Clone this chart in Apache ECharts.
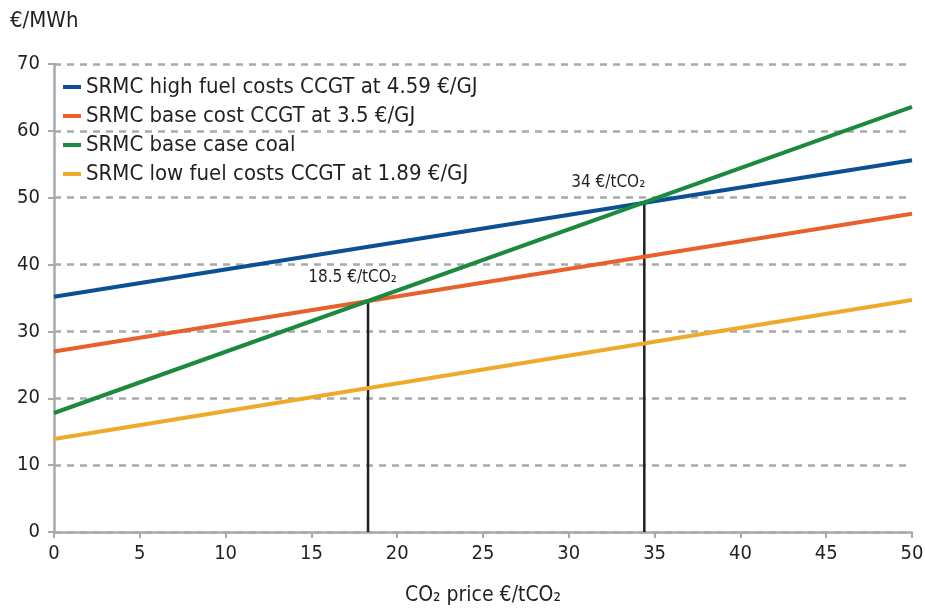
<!DOCTYPE html>
<html>
<head>
<meta charset="utf-8">
<script src="https://cdn.jsdelivr.net/npm/echarts@6/dist/echarts.min.js"></script>
<style>
  html, body { margin: 0; padding: 0; background: #fff; }
  #plot { width: 925px; height: 610px; }
</style>
</head>
<body>
<div id="plot"></div>
<script>
// CO2 price (€/tCO2) at the two ends of each line
var co2Prices = [0, 50];

var seriesNames = [
  'SRMC high fuel costs CCGT at 4.59 €/GJ',
  'SRMC base cost CCGT at 3.5 €/GJ',
  'SRMC base case coal',
  'SRMC low fuel costs CCGT at 1.89 €/GJ'
];
// €/MWh at co2Prices
var highCcgt = [35.2, 55.6];
var baseCcgt = [27.0, 47.6];
var baseCoal = [17.8, 63.6];
var lowCcgt = [13.9, 34.7];

// switching points: [co2 price, €/MWh]
var switchLow = [18.3, 34.5];
var switchHigh = [34.4, 49.3];
var switchLabels = ['18.5 €/tCO₂', '34 €/tCO₂'];

var colors = ['#0b4f95', '#e8612c', '#1a8a3e', '#eeaa29'];
var font = 'DejaVu Sans Condensed, DejaVu Sans, sans-serif';
var ink = '#231f20';

function toPoints(values) {
  return co2Prices.map(function (x, i) { return [x, values[i]]; });
}

var lineData = [highCcgt, baseCcgt, baseCoal, lowCcgt];

var series = lineData.map(function (vals, i) {
  return {
    name: seriesNames[i],
    type: 'line',
    data: toPoints(vals),
    symbol: 'none',
    lineStyle: { color: colors[i], width: 4 },
    itemStyle: { color: colors[i] },
    z: 3
  };
});

// vertical drop lines at the switching points
[switchLow, switchHigh].forEach(function (p, i) {
  series.push({
    name: 'drop' + i,
    type: 'line',
    data: [[p[0], 0], [p[0], p[1]]],
    symbol: 'none',
    lineStyle: { color: ink, width: 2.5 },
    z: 2,
    silent: true
  });
});

// text labels above the switching points
series.push({
  name: 'labels',
  type: 'scatter',
  symbolSize: 0,
  itemStyle: { opacity: 1, color: ink },
  data: [
    { value: [17.4, 38.0], label: { formatter: switchLabels[0] } },
    { value: [32.3, 52.3], label: { formatter: switchLabels[1] } }
  ],
  label: {
    show: true,
    position: 'inside',
    color: ink,
    fontSize: 17,
    fontFamily: font
  },
  silent: true
});

var chart = echarts.init(document.getElementById('plot'));

var option = {
  animation: false,
  backgroundColor: '#fff',
  textStyle: { fontFamily: font, color: ink },
  grid: { left: 54, right: 13, top: 64, bottom: 78, containLabel: false, outerBoundsMode: 'none' },
  legend: {
    data: seriesNames,
    orient: 'vertical',
    left: 58,
    top: 71,
    itemWidth: 18,
    itemHeight: 4,
    itemGap: 7,
    icon: 'rect',
    textStyle: { fontSize: 22, color: ink, fontFamily: font }
  },
  xAxis: {
    type: 'value',
    min: 0,
    max: 50,
    interval: 5,
    name: 'CO₂ price €/tCO₂',
    nameLocation: 'middle',
    nameGap: 53,
    nameTextStyle: { fontSize: 21, color: ink, fontFamily: font },
    axisLine: { lineStyle: { color: '#a7a9ac', width: 2.5 } },
    axisTick: { show: true, length: 6, lineStyle: { color: '#a7a9ac', width: 2 } },
    axisLabel: { fontSize: 20, color: ink, fontFamily: font, margin: 12 },
    splitLine: { show: false }
  },
  yAxis: {
    type: 'value',
    min: 0,
    max: 70,
    interval: 10,
    name: '€/MWh',
    nameLocation: 'end',
    nameGap: 32,
    nameTextStyle: { fontSize: 22, color: ink, fontFamily: font, align: 'left', padding: [0, 0, 0, -44] },
    axisLine: { show: true, lineStyle: { color: '#a7a9ac', width: 2.5 } },
    axisTick: { show: true, length: 6, lineStyle: { color: '#a7a9ac', width: 2 } },
    axisLabel: { fontSize: 20, color: ink, fontFamily: font, margin: 14 },
    splitLine: { show: true, lineStyle: { color: '#a7a9ac', width: 2.5, type: [7, 6] } }
  },
  series: series
};

chart.setOption(option);
</script>
</body>
</html>
